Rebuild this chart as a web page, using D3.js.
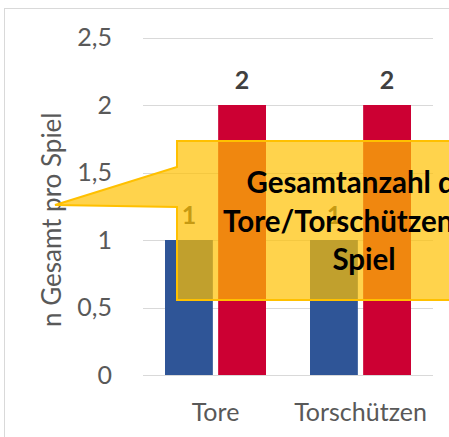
<!DOCTYPE html>
<html>
<head>
<meta charset="utf-8">
<script src="https://cdn.jsdelivr.net/npm/d3@7"></script>
<style>
  html, body { margin: 0; padding: 0; background: #fff; overflow: hidden; }
  svg { display: block; font-family: Lato, "Open Sans", sans-serif; }
</style>
</head>
<body>
<main></main>
<script>
const categories = ["Tore", "Torschützen"];
const series = ["Team A", "Team B"];
const valuesA = [1, 1];
const valuesB = [2, 2];
const yTicks = [0, 0.5, 1, 1.5, 2, 2.5];
const yTitle = "n Gesamt pro Spiel";
const calloutLines = ["Gesamtanzahl der", "Tore/Torschützen pro", "Spiel"];

const w = 449, h = 437;
const colors = { "Team A": "#2f5597", "Team B": "#cc0033" };

const data = categories.map((c, i) => ({ cat: c, vals: [
  { s: series[0], v: valuesA[i] },
  { s: series[1], v: valuesB[i] }
]}));

const svg = d3.select("main").append("svg")
  .attr("width", w)
  .attr("height", h);

// chart frame
svg.append("rect")
  .attr("x", 4.5).attr("y", 8.5)
  .attr("width", 600).attr("height", 600)
  .attr("fill", "#fff")
  .attr("stroke", "#d9d9d9");

const x0 = d3.scaleBand().domain(categories).range([143, 433]);
const x1 = d3.scaleBand().domain(series).range([22, 123]).paddingInner(0.1);
const y = d3.scaleLinear().domain([0, 2.5]).range([375, 37.5]);

// gridlines
svg.append("g").selectAll("line")
  .data(yTicks)
  .enter().append("line")
  .attr("x1", 143).attr("x2", 433)
  .attr("y1", d => Math.round(y(d)) + 0.5)
  .attr("y2", d => Math.round(y(d)) + 0.5)
  .attr("stroke", "#d9d9d9");

// y tick labels
svg.append("g").selectAll("text")
  .data(yTicks)
  .enter().append("text")
  .attr("x", 112)
  .attr("y", d => y(d))
  .attr("dy", "0.35em")
  .attr("text-anchor", "end")
  .attr("fill", "#595959")
  .style("font-size", "25px")
  .text(d => d3.format(".1~f")(d).replace(".", ","));

// x labels
svg.append("g").selectAll("text")
  .data(categories)
  .enter().append("text")
  .attr("x", d => x0(d) + 72.5)
  .attr("y", 412)
  .attr("dy", "0.35em")
  .attr("text-anchor", "middle")
  .attr("fill", "#595959")
  .style("font-size", "25px")
  .text(d => d);

// y title
svg.append("text")
  .attr("transform", "translate(61,327) rotate(-90)")
  .attr("text-anchor", "start")
  .attr("fill", "#595959")
  .style("font-size", "26px")
  .text(yTitle);

// bars
const groups = svg.append("g").selectAll("g")
  .data(data)
  .enter().append("g")
  .attr("transform", d => "translate(" + x0(d.cat) + ",0)");

groups.selectAll("rect")
  .data(d => d.vals)
  .enter().append("rect")
  .attr("x", d => x1(d.s))
  .attr("y", d => y(d.v))
  .attr("width", x1.bandwidth())
  .attr("height", d => y(0) - y(d.v))
  .attr("fill", d => colors[d.s]);

groups.selectAll("text")
  .data(d => d.vals)
  .enter().append("text")
  .attr("x", d => x1(d.s) + x1.bandwidth() / 2)
  .attr("y", d => y(d.v) - 25)
  .attr("dy", "0.35em")
  .attr("text-anchor", "middle")
  .attr("fill", "#404040")
  .style("font-size", "25px")
  .style("font-weight", "bold")
  .text(d => d.v);

// callout
const co = { left: 177, top: 141, right: 560, bottom: 300 };
const tip = [55, 205];
const callout = d3.path();
callout.moveTo(co.left, co.top);
callout.lineTo(co.right, co.top);
callout.lineTo(co.right, co.bottom);
callout.lineTo(co.left, co.bottom);
callout.lineTo(co.left, 207);
callout.lineTo(tip[0], tip[1]);
callout.lineTo(co.left, 167);
callout.closePath();

svg.append("path")
  .attr("d", callout.toString())
  .attr("fill", "#ffc000")
  .attr("fill-opacity", 0.7)
  .attr("stroke", "#ffc000")
  .attr("stroke-width", 2)
  .attr("stroke-linejoin", "miter");

svg.append("g").selectAll("text")
  .data(calloutLines)
  .enter().append("text")
  .attr("x", 364)
  .attr("y", (d, i) => 183 + i * 38.5)
  .attr("dy", "0.35em")
  .attr("text-anchor", "middle")
  .attr("fill", "#000")
  .style("font-size", "29.5px")
  .style("font-weight", "bold")
  .text(d => d);
</script>
</body>
</html>
